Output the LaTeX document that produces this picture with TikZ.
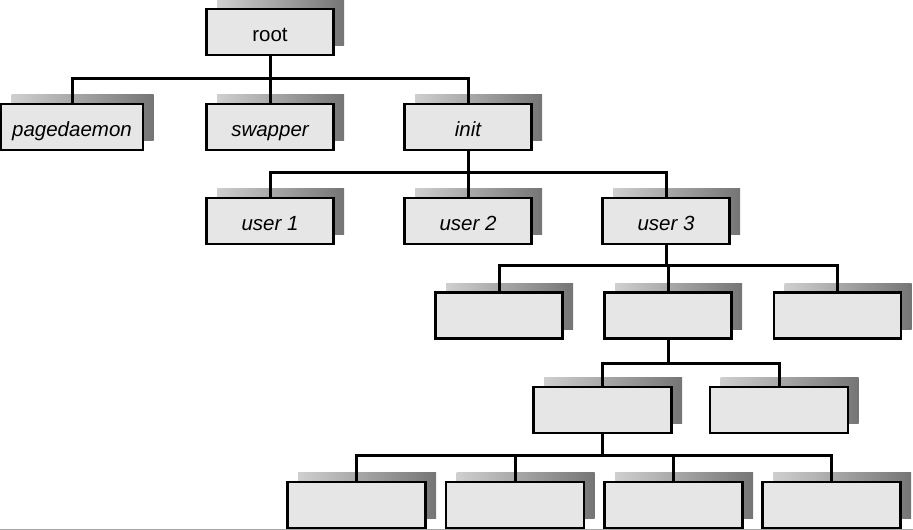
\documentclass[tikz,border=0pt]{standalone}
\usepackage{fontspec}
\setmainfont{Liberation Sans}
\usetikzlibrary{shadows}
\definecolor{boxfill}{HTML}{E6E6E6}
\definecolor{shadowL}{HTML}{CFCFCF}
\definecolor{shadowR}{HTML}{757575}
\begin{document}
\begin{tikzpicture}[x=1pt,y=-1pt,
  procbox/.style={rectangle, draw=black, line width=2.3pt, fill=boxfill,
    minimum height=46pt, minimum width=127pt, inner sep=0pt,
    text height=20pt, text depth=1pt,
    font=\fontsize{20.5}{24}\selectfont\itshape,
    general shadow={draw=none, left color=shadowL, right color=shadowR,
      shadow xshift=10.5pt, shadow yshift=9.5pt}},
  wide/.style={minimum width=138pt},
  conn/.style={draw=black, line width=3pt, line join=miter}]
\useasboundingbox (0,0) rectangle (913,530);
\draw[gray!70, line width=1pt] (0,529) -- (913,529);
% nodes
\node[procbox, font=\fontsize{20.5}{24}\selectfont] (root) at (270,32) {root};
\node[procbox, minimum width=142pt] (pagedaemon) at (72,127) {pagedaemon};
\node[procbox] (swapper) at (270,127) {swapper};
\node[procbox] (init) at (468,127) {init};
\node[procbox] (user1) at (270,221) {user 1};
\node[procbox] (user2) at (468,221) {user 2};
\node[procbox] (user3) at (666,221) {user 3};
\node[procbox] (pa) at (499,315.5) {};
\node[procbox] (pb) at (668,315.5) {};
\node[procbox] (pc) at (837.5,315.5) {};
\node[procbox, wide] (qa) at (602.5,410) {};
\node[procbox, wide] (qb) at (779,410) {};
\node[procbox, wide] (ra) at (356.5,505) {};
\node[procbox, wide] (rb) at (515,505) {};
\node[procbox, wide] (rc) at (673.5,505) {};
\node[procbox, wide] (rd) at (831.5,505) {};
% bus points
\coordinate (b1) at (270,78);
\coordinate (b2) at (468,172);
\coordinate (b3) at (666,265);
\coordinate (b4) at (668,363);
\coordinate (b5) at (602.5,455);
% connectors
\draw[conn] (root.south) -- (b1);
\draw[conn] (pagedaemon.north) |- (b1) -| (init.north);
\draw[conn] (swapper.north) -- (swapper.north |- b1);
\draw[conn] (init.south) -- (b2);
\draw[conn] (user1.north) |- (b2) -| (user3.north);
\draw[conn] (user2.north) -- (user2.north |- b2);
\draw[conn] (user3.south) -- (b3);
\draw[conn] (pa.north) |- (b3) -| (pc.north);
\draw[conn] (pb.north) -- (pb.north |- b3);
\draw[conn] (pb.south) -- (b4);
\draw[conn] (qa.north) |- (b4) -| (qb.north);
\draw[conn] (qa.south) -- (b5);
\draw[conn] (ra.north) |- (b5) -| (rd.north);
\draw[conn] (rb.north) -- (rb.north |- b5);
\draw[conn] (rc.north) -- (rc.north |- b5);
\end{tikzpicture}
\end{document}
